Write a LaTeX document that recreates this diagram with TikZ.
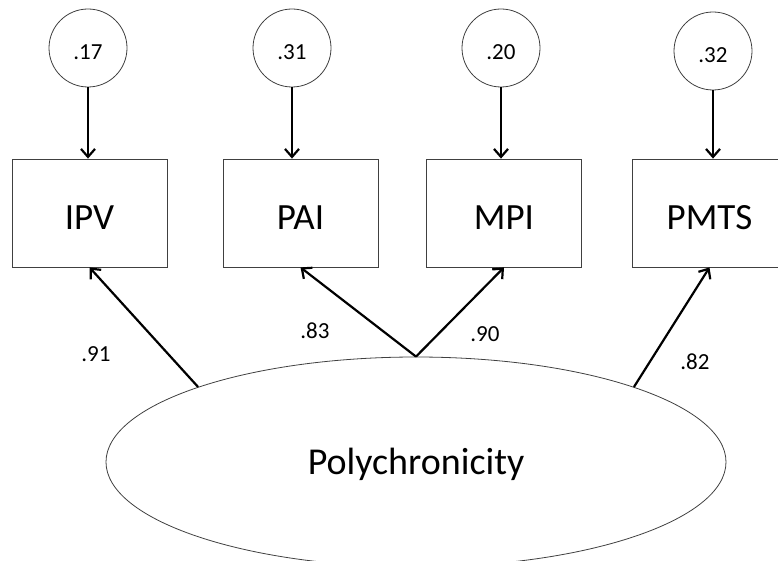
\documentclass[tikz,border=0pt]{standalone}
\usepackage{fontspec}
\setmainfont{Carlito}
\usetikzlibrary{arrows.meta,shapes.geometric}

\begin{document}
\begin{tikzpicture}[x=1pt,y=-1pt,
  err/.style={circle,draw=black!75,line width=0.8pt,minimum size=78pt,inner sep=0pt,
    font=\fontsize{23}{23}\selectfont,text height=23pt,text depth=0pt},
  ind/.style={rectangle,draw=black!75,line width=0.8pt,minimum width=155pt,minimum height=108pt,
    font=\fontsize{37}{37}\selectfont,text height=33pt,text depth=0pt},
  lat/.style={ellipse,draw=black!75,line width=0.8pt,minimum width=620pt,minimum height=210pt,
    font=\fontsize{38}{38}\selectfont,text height=24pt,text depth=0pt},
  coef/.style={font=\fontsize{23}{23}\selectfont,text height=14pt,text depth=0pt,inner sep=0pt},
  arr/.style={-{Straight Barb[length=8pt,width=14pt]},line width=2.2pt}]
\useasboundingbox (0,0) rectangle (778,561);

% error terms
\node[err] (e1) at (88,48) {.17};
\node[err] (e2) at (292,48) {.31};
\node[err] (e3) at (501,48) {.20};
\node[err] (e4) at (713,51) {.32};

% indicators
\node[ind] (ipv) at (89.5,213) {IPV};
\node[ind] (pai) at (300.5,213) {PAI};
\node[ind] (mpi) at (504,213) {MPI};
\node[ind] (pmts) at (709.5,213) {PMTS};

% latent factor
\node[lat] (poly) at (416,462) {Polychronicity};

\draw[arr] (e1) -- (e1 |- ipv.north);
\draw[arr] (e2) -- (e2 |- pai.north);
\draw[arr] (e3) -- (e3 |- mpi.north);
\draw[arr] (e4) -- (e4 |- pmts.north);

\draw[arr] (poly.161) -- (ipv.south);
\draw[arr] (poly.north) -- (pai.south);
\draw[arr] (poly.north) -- (mpi.south);
\draw[arr] (poly.19) -- (pmts.south);

% loadings
\node[coef] (l1) at (96,354) {.91};
\node[coef] (l2) at (315,331) {.83};
\node[coef] (l3) at (485,334) {.90};
\node[coef] (l4) at (695,362) {.82};
\end{tikzpicture}
\end{document}
